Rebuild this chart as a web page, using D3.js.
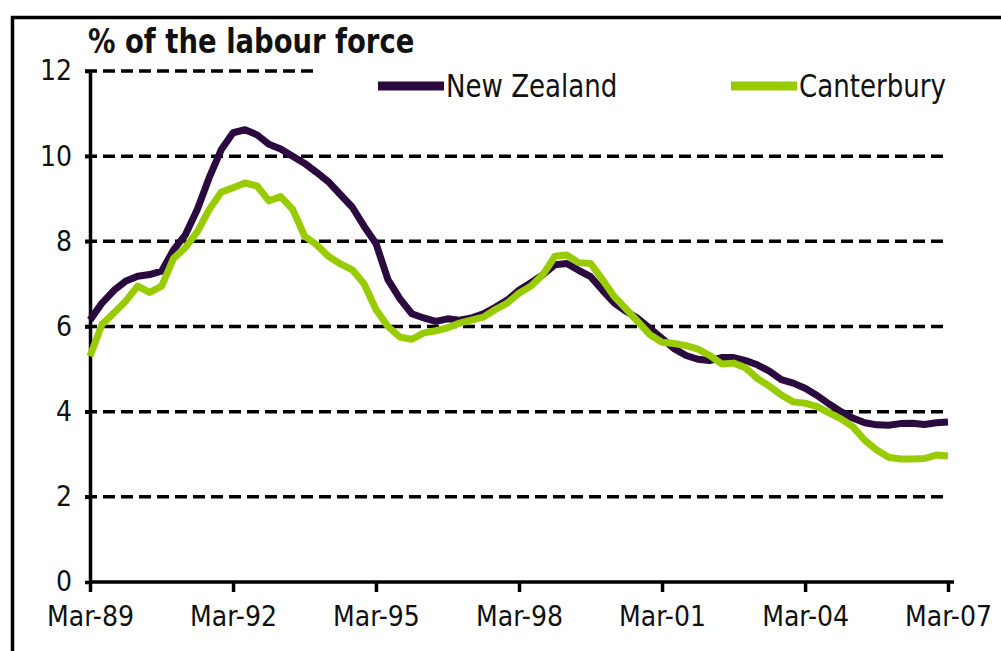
<!DOCTYPE html>
<html>
<head>
<meta charset="utf-8">
<script src="https://cdn.jsdelivr.net/npm/d3@7"></script>
<style>
  body { margin: 0; background: #fff; }
  text { font-family: "DejaVu Sans Condensed", "DejaVu Sans", sans-serif; }
</style>
</head>
<body>
<div id="vis"></div>
<script>
// Quarterly unemployment rate, Mar-89 to Mar-07 (% of the labour force)
const START_YEAR = 1989;
const NZ_VALUES = [
  6.15, 6.55, 6.85, 7.07, 7.18, 7.22, 7.3, 7.8, 8.15, 8.75, 9.5, 10.15,
  10.55, 10.62, 10.5, 10.28, 10.17, 10.0, 9.83, 9.62, 9.4, 9.1, 8.8, 8.35,
  7.95, 7.1, 6.65, 6.3, 6.2, 6.12, 6.18, 6.15, 6.2, 6.3, 6.45, 6.62,
  6.85, 7.03, 7.22, 7.45, 7.48, 7.32, 7.17, 6.85, 6.55, 6.35, 6.18, 5.95,
  5.72, 5.48, 5.32, 5.23, 5.2, 5.27, 5.27, 5.2, 5.1, 4.95, 4.75, 4.67,
  4.55, 4.38, 4.18, 4.0, 3.85, 3.74, 3.69, 3.68, 3.72, 3.73, 3.7, 3.74,
  3.76
];
const CANTERBURY_VALUES = [
  5.3, 6.05, 6.32, 6.6, 6.95, 6.8, 6.95, 7.6, 7.85, 8.22, 8.75, 9.15,
  9.26, 9.37, 9.3, 8.95, 9.05, 8.75, 8.12, 7.92, 7.65, 7.47, 7.33, 7.0,
  6.4, 6.0, 5.75, 5.7, 5.85, 5.9, 5.97, 6.08, 6.15, 6.22, 6.4, 6.55,
  6.78, 6.95, 7.22, 7.65, 7.68, 7.5, 7.48, 7.1, 6.7, 6.4, 6.1, 5.8,
  5.63, 5.6, 5.55, 5.47, 5.32, 5.12, 5.14, 5.03, 4.78, 4.6, 4.39, 4.23,
  4.2, 4.12, 3.97, 3.83, 3.65, 3.33, 3.1, 2.93, 2.89, 2.89, 2.9, 2.98,
  2.96
];
const X_TICK_YEARS = [1989, 1992, 1995, 1998, 2001, 2004, 2007];
const Y_TICKS = [0, 2, 4, 6, 8, 10, 12];
const SERIES_NAMES = ["New Zealand", "Canterbury"];

// Frame constants
const FRAME_WIDTH = 1001;
const FRAME_HEIGHT = 651;
const MARGINS = {left: 90, right: 53, top: 71, bottom: 69};
const VIS_WIDTH = FRAME_WIDTH - MARGINS.left - MARGINS.right;
const VIS_HEIGHT = FRAME_HEIGHT - MARGINS.top - MARGINS.bottom;
const COLORS = ["#2b0a3f", "#99cc00"];

// quarter index -> date
const quarterDate = (i) => new Date(START_YEAR, 2 + 3 * i, 1);

const FRAME = d3.select("#vis")
  .append("svg")
    .attr("width", FRAME_WIDTH)
    .attr("height", FRAME_HEIGHT);

// outer border (runs off the right and bottom edges)
FRAME.append("rect")
  .attr("x", 12.5).attr("y", 17.5)
  .attr("width", 1200).attr("height", 1000)
  .attr("fill", "none")
  .attr("stroke", "#000")
  .attr("stroke-width", 3.5);

const X_SCALE = d3.scaleTime()
  .domain([new Date(1989, 2, 1), new Date(2007, 2, 1)])
  .range([MARGINS.left, MARGINS.left + 858]);

const Y_SCALE = d3.scaleLinear()
  .domain([0, 12])
  .range([MARGINS.top + VIS_HEIGHT, MARGINS.top]);

// dashed gridlines (top one stops short of the legend)
FRAME.append("g")
  .selectAll("line")
  .data(Y_TICKS.filter((d) => d > 0))
  .enter()
  .append("line")
    .attr("x1", MARGINS.left - 5)
    .attr("x2", (d) => d === 12 ? 315 : 947)
    .attr("y1", (d) => Y_SCALE(d))
    .attr("y2", (d) => Y_SCALE(d))
    .attr("stroke", "#000")
    .attr("stroke-width", 3.5)
    .attr("stroke-dasharray", "12,6");

// y axis
const yAxis = FRAME.append("g")
  .attr("transform", "translate(" + MARGINS.left + ",0)")
  .call(d3.axisLeft(Y_SCALE).tickValues(Y_TICKS).tickSize(5).tickPadding(13).tickSizeOuter(0));
yAxis.select(".domain").attr("stroke-width", 3.5);
yAxis.selectAll(".tick line").attr("stroke-width", 3.5);
yAxis.selectAll("text")
  .attr("font-size", "28px")
  .attr("font-family", "DejaVu Sans Condensed, DejaVu Sans, sans-serif")
  .attr("fill", "#111");

// x axis
const xAxis = FRAME.append("g")
  .attr("transform", "translate(0," + (MARGINS.top + VIS_HEIGHT) + ")")
  .call(d3.axisBottom(X_SCALE)
    .tickValues(X_TICK_YEARS.map((y) => new Date(y, 2, 1)))
    .tickFormat(d3.timeFormat("Mar-%y"))
    .tickSize(10).tickPadding(14).tickSizeOuter(0));
xAxis.select(".domain").attr("stroke-width", 3.5)
  .attr("d", "M" + MARGINS.left + ",0H954");
xAxis.selectAll(".tick line").attr("stroke-width", 3.5);
xAxis.selectAll("text")
  .attr("font-size", "28px")
  .attr("font-family", "DejaVu Sans Condensed, DejaVu Sans, sans-serif")
  .attr("fill", "#111");

// lines
const line = d3.line()
  .x((d, i) => X_SCALE(quarterDate(i)))
  .y((d) => Y_SCALE(d));

[NZ_VALUES, CANTERBURY_VALUES].forEach((vals, k) => {
  FRAME.append("path")
    .datum(vals)
    .attr("d", line)
    .attr("fill", "none")
    .attr("stroke", COLORS[k])
    .attr("stroke-width", 7)
    .attr("stroke-linejoin", "round");
});

// title (slightly stretched vertically like the original)
FRAME.append("text")
  .attr("transform", "translate(88,53) scale(1,1.1)")
  .attr("font-size", "30.5px")
  .attr("font-weight", "bold")
  .attr("fill", "#111")
  .text("% of the labour force");

// legend
const LEGEND_X = [378, 731];
SERIES_NAMES.forEach((name, k) => {
  FRAME.append("line")
    .attr("x1", LEGEND_X[k]).attr("x2", LEGEND_X[k] + 66)
    .attr("y1", 86).attr("y2", 86)
    .attr("stroke", COLORS[k])
    .attr("stroke-width", 9);
  FRAME.append("text")
    .attr("transform", "translate(" + (LEGEND_X[k] + 68) + ",97) scale(1,1.1)")
    .attr("font-size", "29px")
    .attr("fill", "#111")
    .text(name);
});
</script>
</body>
</html>
